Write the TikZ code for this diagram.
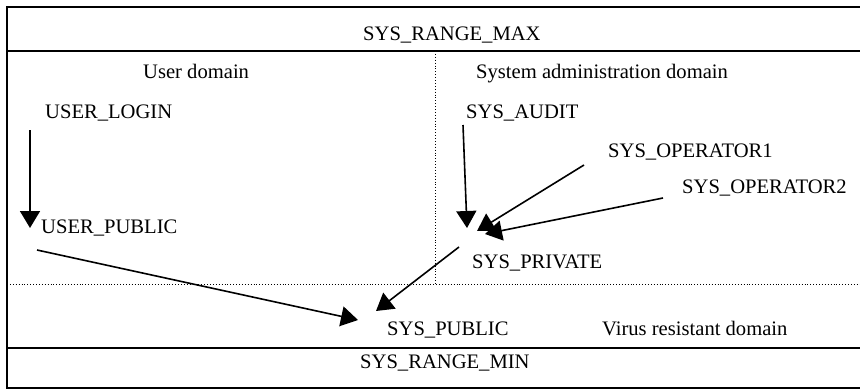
\documentclass[tikz,border=0pt]{standalone}
\usepackage{fontspec}
\setmainfont{Liberation Serif}
\usetikzlibrary{arrows.meta}
\begin{document}
\begin{tikzpicture}[x=1pt,y=-1pt,
  lbl/.style={anchor=base west,inner sep=0pt,font=\fontsize{20.6}{23}\selectfont},
  arr/.style={line width=1.6pt,-{Triangle[length=17pt,width=20pt]}},
  frame/.style={line width=1.6pt},
  divider/.style={line width=0.9pt,dotted}]
\useasboundingbox (0,0) rectangle (860,389);
% frame
\draw[frame] (860,7) -- (7,7) -- (7,388) -- (860,388);
\draw[frame] (7,51) -- (860,51);
\draw[frame] (7,348) -- (860,348);
\draw[divider] (7,284) -- (860,284);
\draw[divider] (435,51) -- (435,284);
% texts
\node[lbl] (max) at (363,40) {SYS\_RANGE\_MAX};
\node[lbl] (ud) at (143,78) {User domain};
\node[lbl] (sad) at (476,78) {System administration domain};
\node[lbl] (login) at (45,118) {USER\_LOGIN};
\node[lbl] (audit) at (466,118) {SYS\_AUDIT};
\node[lbl] (op1) at (608,157) {SYS\_OPERATOR1};
\node[lbl] (op2) at (682,193) {SYS\_OPERATOR2};
\node[lbl] (upub) at (41,233) {USER\_PUBLIC};
\node[lbl] (priv) at (472,268) {SYS\_PRIVATE};
\node[lbl] (spub) at (387,335) {SYS\_PUBLIC};
\node[lbl] (vrd) at (602,335) {Virus resistant domain};
\node[lbl] (min) at (360,368) {SYS\_RANGE\_MIN};
% connector end points
\coordinate (a1s) at (30,130);  \coordinate (a1e) at (30,228);
\coordinate (a2s) at (37,250);  \coordinate (a2e) at (358,320);
\coordinate (a3s) at (459,247); \coordinate (a3e) at (376,311);
\coordinate (a4s) at (463,125); \coordinate (a4e) at (467,228);
\coordinate (a5s) at (584,165); \coordinate (a5e) at (477,231);
\coordinate (a6s) at (663,198); \coordinate (a6e) at (485,234);
\draw[arr] (a1s) -- (a1e);
\draw[arr] (a2s) -- (a2e);
\draw[arr] (a3s) -- (a3e);
\draw[arr] (a4s) -- (a4e);
\draw[arr] (a5s) -- (a5e);
\draw[arr] (a6s) -- (a6e);
\end{tikzpicture}
\end{document}
